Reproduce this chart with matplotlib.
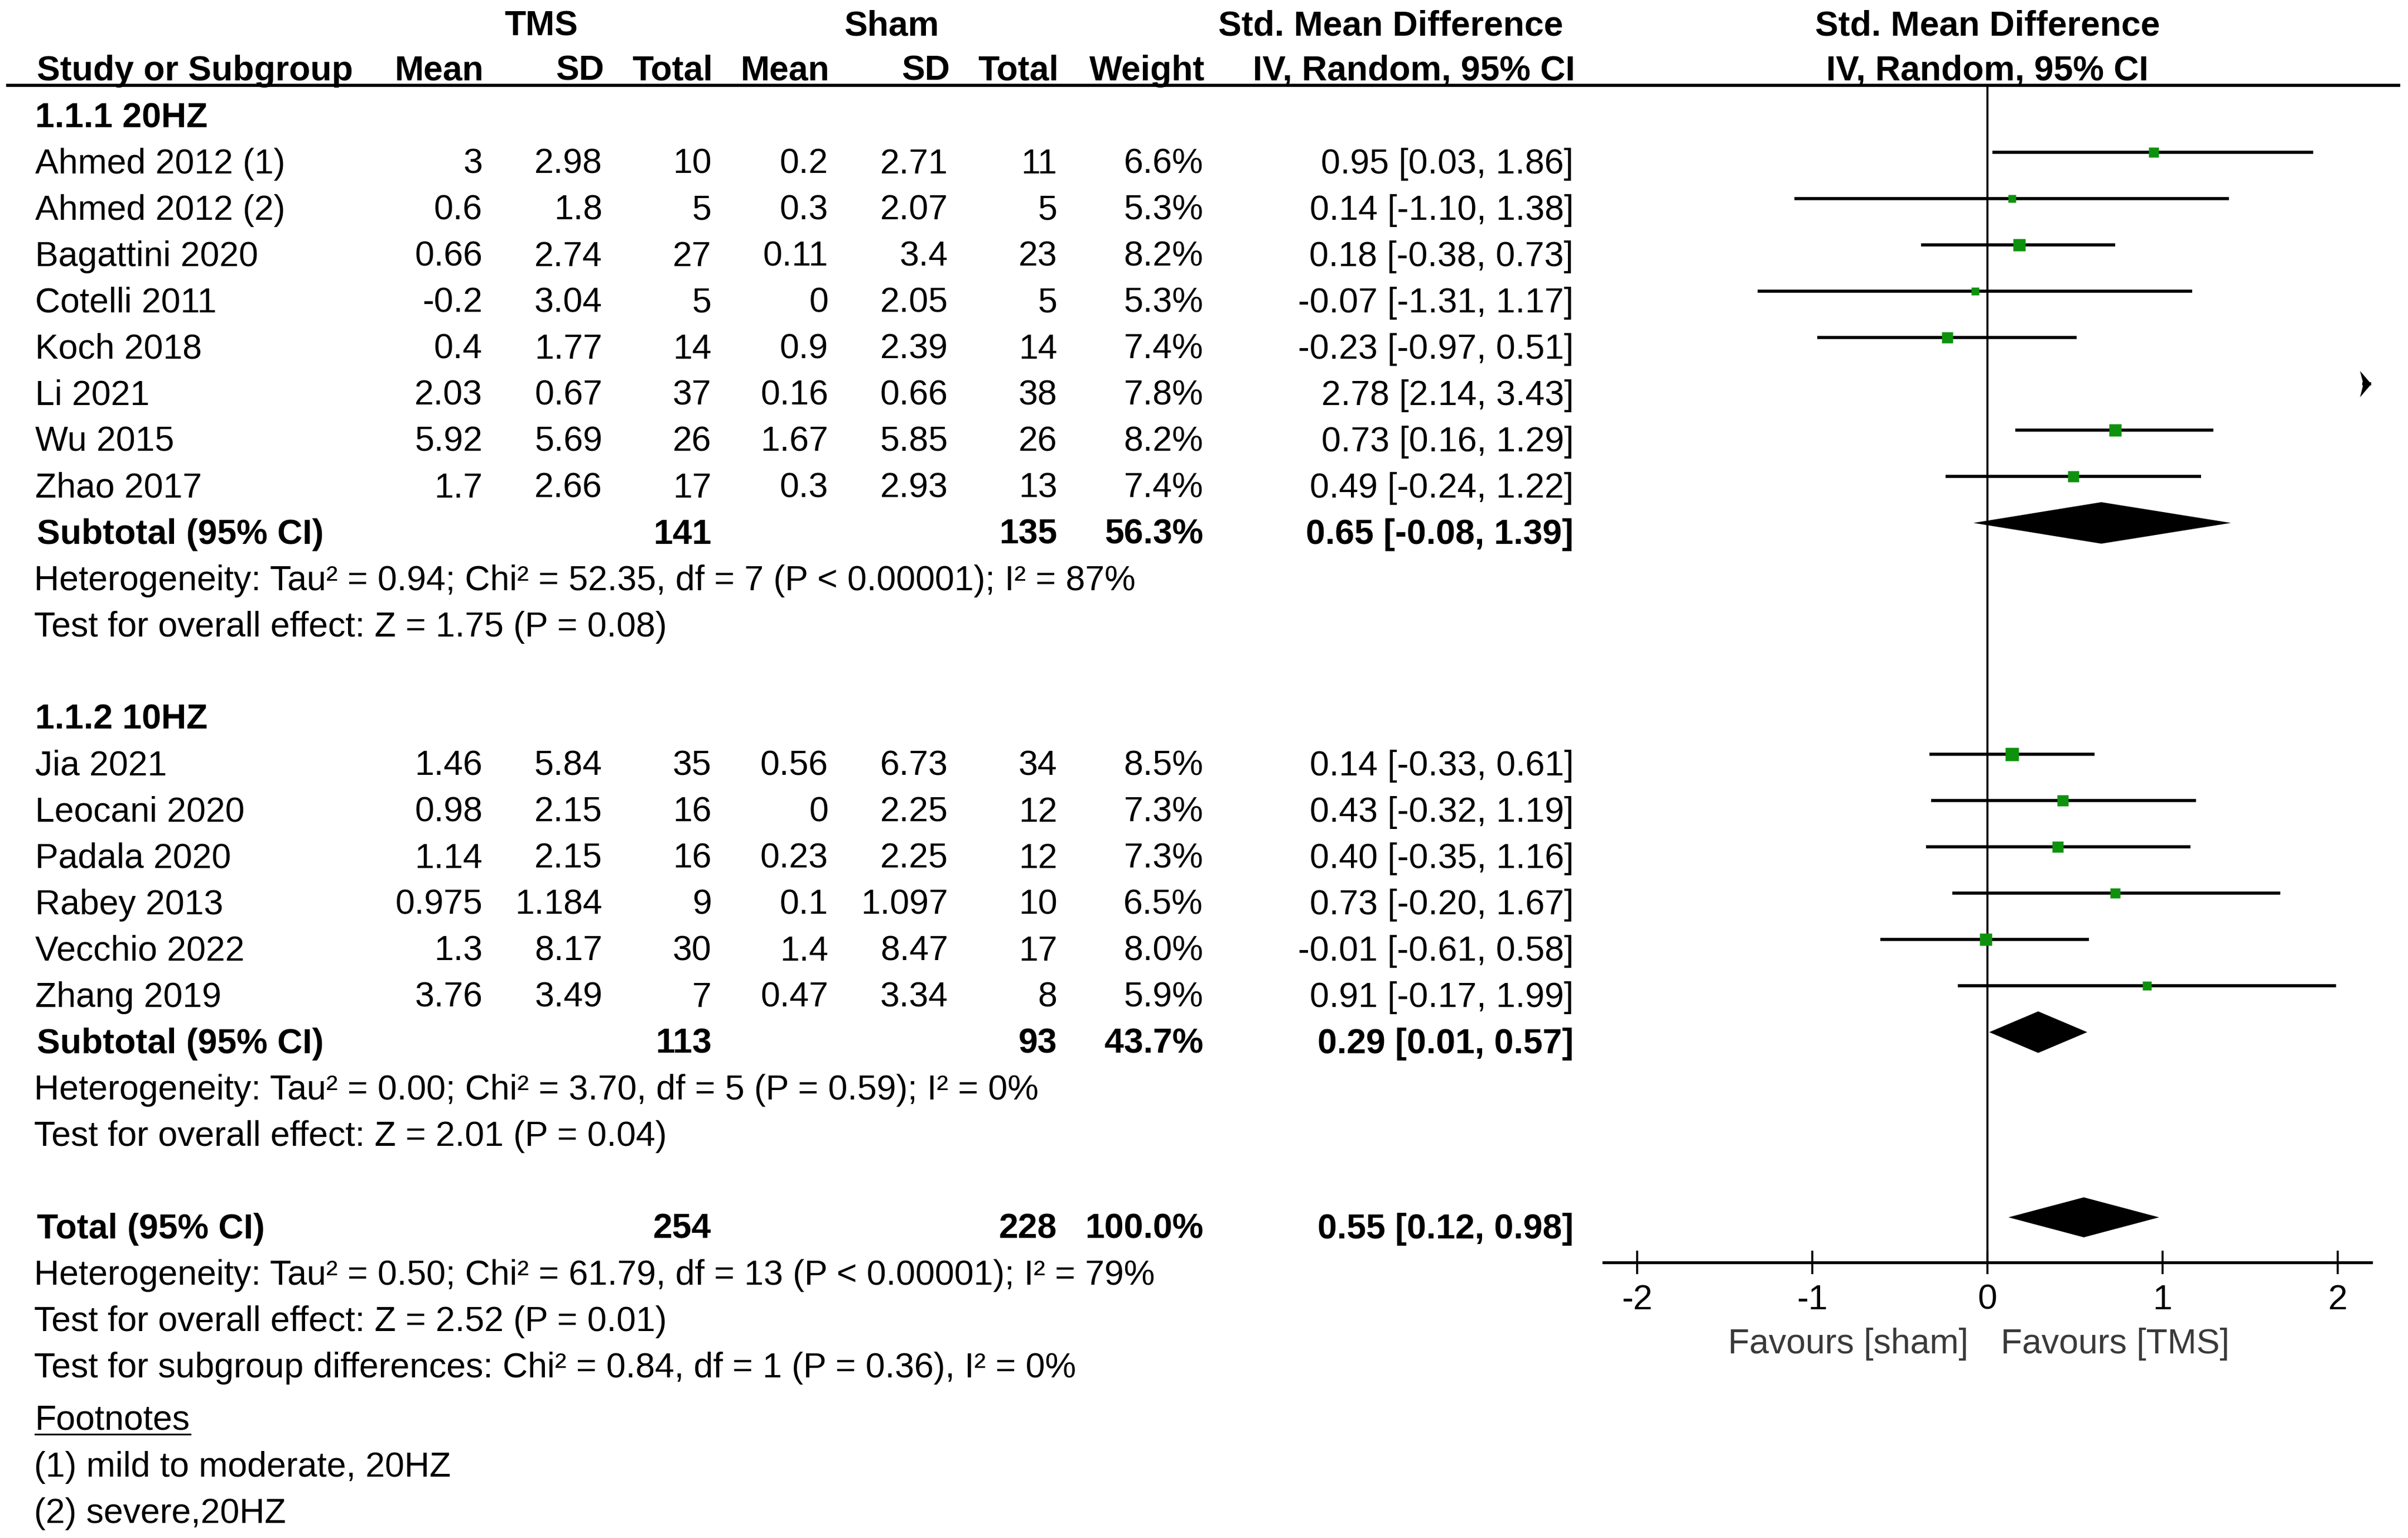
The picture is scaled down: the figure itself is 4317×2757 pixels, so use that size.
import matplotlib
matplotlib.use("Agg")
import matplotlib.pyplot as plt
import matplotlib.transforms as mtransforms

plt.rcParams["font.family"] = ["Liberation Sans", "DejaVu Sans"]
plt.rcParams["axes.unicode_minus"] = False

# ---- data ----
groups = ["1.1.1 20HZ", "1.1.2 10HZ"]
studies = ["Ahmed 2012 (1)", "Ahmed 2012 (2)", "Bagattini 2020", "Cotelli 2011",
           "Koch 2018", "Li 2021", "Wu 2015", "Zhao 2017",
           "Jia 2021", "Leocani 2020", "Padala 2020", "Rabey 2013",
           "Vecchio 2022", "Zhang 2019"]
study_group = [0, 0, 0, 0, 0, 0, 0, 0, 1, 1, 1, 1, 1, 1]
tms_mean = ["3", "0.6", "0.66", "-0.2", "0.4", "2.03", "5.92", "1.7",
            "1.46", "0.98", "1.14", "0.975", "1.3", "3.76"]
tms_sd = ["2.98", "1.8", "2.74", "3.04", "1.77", "0.67", "5.69", "2.66",
          "5.84", "2.15", "2.15", "1.184", "8.17", "3.49"]
tms_n = [10, 5, 27, 5, 14, 37, 26, 17, 35, 16, 16, 9, 30, 7]
sham_mean = ["0.2", "0.3", "0.11", "0", "0.9", "0.16", "1.67", "0.3",
             "0.56", "0", "0.23", "0.1", "1.4", "0.47"]
sham_sd = ["2.71", "2.07", "3.4", "2.05", "2.39", "0.66", "5.85", "2.93",
           "6.73", "2.25", "2.25", "1.097", "8.47", "3.34"]
sham_n = [11, 5, 23, 5, 14, 38, 26, 13, 34, 12, 12, 10, 17, 8]
weight = [6.6, 5.3, 8.2, 5.3, 7.4, 7.8, 8.2, 7.4, 8.5, 7.3, 7.3, 6.5, 8.0, 5.9]
smd = [0.95, 0.14, 0.18, -0.07, -0.23, 2.78, 0.73, 0.49,
       0.14, 0.43, 0.40, 0.73, -0.01, 0.91]
ci_lo = [0.03, -1.10, -0.38, -1.31, -0.97, 2.14, 0.16, -0.24,
         -0.33, -0.32, -0.35, -0.20, -0.61, -0.17]
ci_hi = [1.86, 1.38, 0.73, 1.17, 0.51, 3.43, 1.29, 1.22,
         0.61, 1.19, 1.16, 1.67, 0.58, 1.99]

sub_tms_n = [141, 113]
sub_sham_n = [135, 93]
sub_weight = [56.3, 43.7]
sub_smd = [0.65, 0.29]
sub_lo = [-0.08, 0.01]
sub_hi = [1.39, 0.57]
sub_notes = [
    ["Heterogeneity: Tau\u00b2 = 0.94; Chi\u00b2 = 52.35, df = 7 (P < 0.00001); I\u00b2 = 87%",
     "Test for overall effect: Z = 1.75 (P = 0.08)"],
    ["Heterogeneity: Tau\u00b2 = 0.00; Chi\u00b2 = 3.70, df = 5 (P = 0.59); I\u00b2 = 0%",
     "Test for overall effect: Z = 2.01 (P = 0.04)"],
]

tot_tms_n = 254
tot_sham_n = 228
tot_weight = 100.0
tot_smd = 0.55
tot_lo = 0.12
tot_hi = 0.98
tot_notes = [
    "Heterogeneity: Tau\u00b2 = 0.50; Chi\u00b2 = 61.79, df = 13 (P < 0.00001); I\u00b2 = 79%",
    "Test for overall effect: Z = 2.52 (P = 0.01)",
    "Test for subgroup differences: Chi\u00b2 = 0.84, df = 1 (P = 0.36), I\u00b2 = 0%",
]
footnotes = ["(1) mild to moderate, 20HZ", "(2) severe,20HZ"]

xticks = [-2, -1, 0, 1, 2]
favours = ["Favours [sham]", "Favours [TMS]"]

# ---- layout (units of a 1567 x 1000 page) ----
W, H = 1567, 1000
FS = 45
CAP = 8.1            # half cap height in page units
ROW0, STEP = 74.6, 30.1
FOREST_SHIFT = -5.5  # forest marks sit slightly above the text centre
NAME_X = 23
COLS = [314, 392, 463, 539, 617, 688, 783, 1024]
XMIN, XMAX = -2.19, 2.19
F_LEFT, F_RIGHT, F_TOP, F_BOT = 1043.6, 1543, 55.5, 821
GREEN = "#0e920e"

fig = plt.figure(figsize=(43.17, 27.57), dpi=100)
fig.patch.set_facecolor("white")
at = fig.add_axes([0, 0, 1, 1])
at.set_xlim(0, W)
at.set_ylim(H, 0)
at.axis("off")

fa = fig.add_axes([F_LEFT / W, 1 - F_BOT / H, (F_RIGHT - F_LEFT) / W, (F_BOT - F_TOP) / H])
fa.set_xlim(XMIN, XMAX)
fa.set_ylim(F_BOT, F_TOP)
fa.patch.set_alpha(0)
for s in ["top", "left", "right"]:
    fa.spines[s].set_visible(False)
fa.spines["bottom"].set_linewidth(3.8)
fa.set_yticks([])
fa.set_xticks(xticks)
fa.set_xticklabels([str(t) for t in xticks])
fa.tick_params(axis="x", direction="inout", length=30, width=2.6, pad=12, labelsize=FS)
fa.axvline(0, color="black", lw=2.6)

# x in effect units, y in page units
mixed = mtransforms.blended_transform_factory(fa.transData, at.transData)


def put(x, yc, s, ha="right", bold=False, color="black", transform=None):
    return at.text(x, yc + CAP, s, ha=ha, va="baseline", fontsize=FS,
                   fontweight="bold" if bold else "normal", color=color,
                   transform=transform or at.transData)


def row_y(i):
    return ROW0 + STEP * i


# header
put(352, 15, "TMS", ha="center", bold=True)
put(580, 15, "Sham", ha="center", bold=True)
put(905, 15, "Std. Mean Difference", ha="center", bold=True)
put(0, 15, "Std. Mean Difference", ha="center", bold=True, transform=mixed)
hdr = ["Mean", "SD", "Total", "Mean", "SD", "Total", "Weight", "IV, Random, 95% CI"]
put(24, 44, "Study or Subgroup", ha="left", bold=True)
for x, h in zip(COLS, hdr):
    put(x + 1, 44, h, bold=True)
put(0, 44, "IV, Random, 95% CI", ha="center", bold=True, transform=mixed)
at.plot([4, 1562], [55.5, 55.5], color="black", lw=4, solid_capstyle="butt")


def ci_text(e, lo, hi):
    return f"{e:.2f} [{lo:.2f}, {hi:.2f}]"


def diamond(y, e, lo, hi, h=13.5):
    fa.fill([lo, e, hi, e], [y, y - h, y, y + h], color="black", lw=0)


# arrowhead used by RevMan for a CI running off the scale
arrow_head = [(-0.4, 1.0), (0.45, 0.0), (-0.4, -1.0), (-0.15, 0.0), (-0.4, 1.0)]

r = 0
for g, gname in enumerate(groups):
    put(NAME_X, row_y(r), gname, ha="left", bold=True)
    r += 1
    for i in [k for k, sg in enumerate(study_group) if sg == g]:
        y = row_y(r)
        put(NAME_X, y, studies[i], ha="left")
        vals = [tms_mean[i], tms_sd[i], str(tms_n[i]), sham_mean[i], sham_sd[i],
                str(sham_n[i]), f"{weight[i]:.1f}%", ci_text(smd[i], ci_lo[i], ci_hi[i])]
        for x, v in zip(COLS, vals):
            put(x, y, v)
        fy = y + FOREST_SHIFT
        fa.plot([ci_lo[i], ci_hi[i]], [fy, fy], color="black", lw=4.0, solid_capstyle="butt")
        fa.plot([smd[i]], [fy], marker="s", ms=weight[i] * 2.0, color=GREEN, mec="none")
        if ci_hi[i] > XMAX:
            fa.plot([XMAX - 0.035], [fy], marker=arrow_head, ms=34, color="black",
                    mec="none", clip_on=False)
        r += 1
    y = row_y(r)
    put(NAME_X + 1, y, "Subtotal (95% CI)", ha="left", bold=True)
    put(COLS[2], y, str(sub_tms_n[g]), bold=True)
    put(COLS[5], y, str(sub_sham_n[g]), bold=True)
    put(COLS[6], y, f"{sub_weight[g]:.1f}%", bold=True)
    put(COLS[7], y, ci_text(sub_smd[g], sub_lo[g], sub_hi[g]), bold=True)
    diamond(y + FOREST_SHIFT, sub_smd[g], sub_lo[g], sub_hi[g])
    r += 1
    for note in sub_notes[g]:
        put(NAME_X - 1, row_y(r), note, ha="left")
        r += 1
    r += 1

y = row_y(r)
put(NAME_X + 1, y, "Total (95% CI)", ha="left", bold=True)
put(COLS[2], y, str(tot_tms_n), bold=True)
put(COLS[5], y, str(tot_sham_n), bold=True)
put(COLS[6], y, f"{tot_weight:.1f}%", bold=True)
put(COLS[7], y, ci_text(tot_smd, tot_lo, tot_hi), bold=True)
diamond(y + FOREST_SHIFT, tot_smd, tot_lo, tot_hi, h=13)
r += 1
for note in tot_notes:
    put(NAME_X - 1, row_y(r), note, ha="left")
    r += 1

fn = put(NAME_X, row_y(r) + 4, "Footnotes", ha="left")
r += 1
for note in footnotes:
    put(NAME_X - 1, row_y(r) + 4.5, note, ha="left")
    r += 1

# favours labels under the axis
put(-0.11, 872, favours[0], ha="right", color="#3a3a3a", transform=mixed)
put(0.075, 872, favours[1], ha="left", color="#3a3a3a", transform=mixed)

# underline "Footnotes"
fig.canvas.draw()
bb = fn.get_window_extent(fig.canvas.get_renderer())
ux0, uy = at.transData.inverted().transform((bb.x0, bb.y0))
ux1, _ = at.transData.inverted().transform((bb.x1, bb.y0))
at.plot([ux0, ux1], [uy - 1.5, uy - 1.5], color="black", lw=2.2)

fig.savefig("out.png", dpi=100, facecolor="white")
